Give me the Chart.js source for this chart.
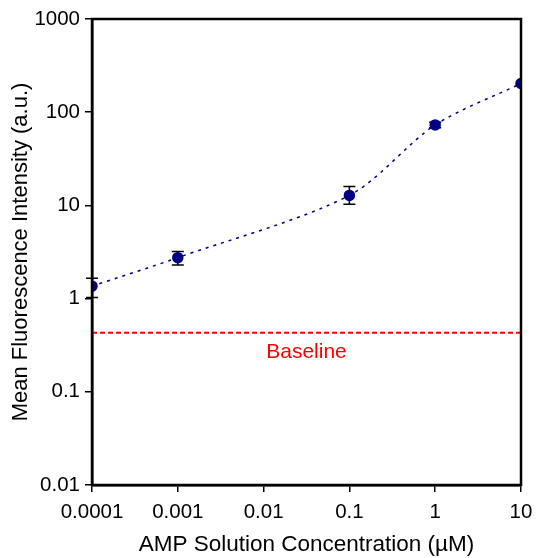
<!DOCTYPE html>
<html>
<head>
<meta charset="utf-8">
<script src="https://cdn.jsdelivr.net/npm/chart.js@4.4.0/dist/chart.umd.min.js"></script>
<style>
  html, body { margin: 0; padding: 0; background: #fff; }
  #wrap { width: 536px; height: 558px; }
</style>
</head>
<body>
<div id="wrap"><canvas id="chart" width="536" height="558"></canvas></div>
<script>
// concentrations (uM) and mean fluorescence (a.u.)
const concentrations = [0.0001, 0.001, 0.1, 1, 10];
const meanIntensity = [1.36, 2.75, 12.8, 73, 203];
const errUpper = [1.65, 3.2, 16, 78, 203];
const errLower = [1.03, 2.3, 10.3, 68, 203];

const baselineValue = 0.43;
const baselineText = 'Baseline';

const xTicks = [0.0001, 0.001, 0.01, 0.1, 1, 10];
const yTicks = [0.01, 0.1, 1, 10, 100, 1000];

const FONT = '"Liberation Sans", Arial, Helvetica, sans-serif';

// error bars + frame + baseline label
const extrasPlugin = {
    id: 'extras',
    beforeDatasetsDraw(chart) {
        const ctx = chart.ctx;
        const xs = chart.scales.x, ys = chart.scales.y;
        ctx.save();
        ctx.strokeStyle = '#000';
        ctx.lineWidth = 1.5;
        concentrations.forEach((c, i) => {
            if (errUpper[i] === errLower[i]) return;
            const px = xs.getPixelForValue(c);
            const top = ys.getPixelForValue(errUpper[i]);
            const bot = ys.getPixelForValue(errLower[i]);
            ctx.beginPath();
            ctx.moveTo(px, top); ctx.lineTo(px, bot);
            ctx.moveTo(px - 6, top); ctx.lineTo(px + 6, top);
            ctx.moveTo(px - 6, bot); ctx.lineTo(px + 6, bot);
            ctx.stroke();
        });
        ctx.restore();
    },
    afterDraw(chart) {
        const ctx = chart.ctx;
        const a = chart.chartArea;
        const ys = chart.scales.y;
        ctx.save();
        ctx.strokeStyle = '#000';
        ctx.lineWidth = 2.5;
        ctx.strokeRect(a.left, a.top, a.right - a.left, a.bottom - a.top);
        ctx.fillStyle = '#ff0000';
        ctx.font = '21px ' + FONT;
        ctx.textAlign = 'center';
        ctx.textBaseline = 'middle';
        ctx.fillText(baselineText, (a.left + a.right) / 2, ys.getPixelForValue(baselineValue) + 19);
        ctx.restore();
    }
};

new Chart(document.getElementById('chart'), {
    type: 'line',
    data: {
        datasets: [
            {
                label: 'Baseline',
                data: [{ x: xTicks[0], y: baselineValue }, { x: xTicks[xTicks.length - 1], y: baselineValue }],
                borderColor: '#ff0000',
                borderWidth: 2,
                borderDash: [5, 3],
                pointRadius: 0,
                fill: false
            },
            {
                label: 'Mean Fluorescence',
                data: concentrations.map((c, i) => ({ x: c, y: meanIntensity[i] })),
                borderColor: '#000080',
                borderWidth: 1.5,
                borderDash: [3, 5],
                tension: 0.3,
                pointRadius: 5,
                pointBackgroundColor: '#000080',
                pointBorderColor: '#000080',
                fill: false
            }
        ]
    },
    options: {
        responsive: false,
        animation: false,
        layout: { padding: { top: 19, right: 15, left: 0, bottom: 0 } },
        plugins: {
            legend: { display: false },
            tooltip: { enabled: false }
        },
        scales: {
            x: {
                type: 'logarithmic',
                min: 0.0001,
                max: 10,
                afterBuildTicks: s => { s.ticks = xTicks.map(v => ({ value: v })); },
                afterFit: s => { s.height = 73; s.paddingLeft = 0; s.paddingRight = 0; },
                ticks: {
                    color: '#000',
                    font: { family: FONT, size: 20.5 },
                    padding: 8,
                    maxRotation: 0,
                    autoSkip: false,
                    callback: v => String(v)
                },
                grid: { drawOnChartArea: false, drawTicks: true, tickLength: 7, color: '#000', lineWidth: 1.5 },
                border: { display: true, color: '#000', width: 2.5 },
                title: {
                    display: true,
                    text: 'AMP Solution Concentration (\u00b5M)',
                    color: '#000',
                    font: { family: FONT, size: 22.5 },
                    padding: { top: 0, bottom: 0 }
                }
            },
            y: {
                type: 'logarithmic',
                min: 0.01,
                max: 1000,
                afterBuildTicks: s => { s.ticks = yTicks.map(v => ({ value: v })); },
                afterFit: s => { s.width = 92; s.paddingTop = 0; s.paddingBottom = 0; },
                ticks: {
                    color: '#000',
                    font: { family: FONT, size: 20.5 },
                    padding: 5,
                    autoSkip: false,
                    callback: v => String(v)
                },
                grid: { drawOnChartArea: false, drawTicks: true, tickLength: 7, color: '#000', lineWidth: 1.5 },
                border: { display: true, color: '#000', width: 2.5 },
                title: {
                    display: true,
                    text: 'Mean Fluorescence Intensity (a.u.)',
                    color: '#000',
                    font: { family: FONT, size: 22 },
                    padding: { top: 8, bottom: 0 }
                }
            }
        }
    },
    plugins: [extrasPlugin]
});
</script>
</body>
</html>
